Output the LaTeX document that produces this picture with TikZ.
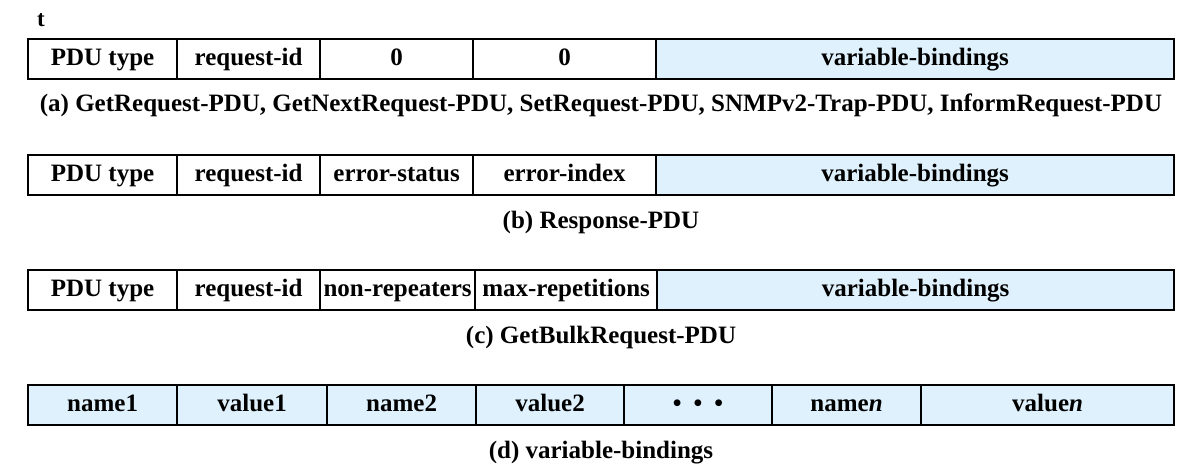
\documentclass[tikz,border=0pt]{standalone}
\usepackage{fontspec}
\setmainfont{Liberation Serif}
\definecolor{vb}{HTML}{DFF1FC}
\tikzset{
  cell/.style={draw=black, line width=2.2pt, minimum height=40pt, inner sep=0pt, anchor=north west,
    text height=18pt, text depth=5pt,
    font=\fontsize{25}{29}\selectfont\bfseries},
  cellw/.style={cell, fill=white},
  cellb/.style={cell, fill=vb},
  captext/.style={font=\fontsize{25}{29}\selectfont\bfseries, inner sep=0pt, anchor=base}
}
\begin{document}
\begin{tikzpicture}[x=1pt,y=-1pt]
\useasboundingbox (0,0) rectangle (1204,468);
\node[font=\fontsize{23}{26}\selectfont\bfseries, inner sep=0pt, anchor=base] (t) at (41,27) {t};
% row a
\node[cellw, minimum width=149pt] (a1) at (27,38) {PDU type};
\node[cellw, minimum width=143pt] (a2) at (176,38) {request-id};
\node[cellw, minimum width=153pt] (a3) at (319,38) {0};
\node[cellw, minimum width=183pt] (a4) at (472,38) {0};
\node[cellb, minimum width=518pt] (a5) at (655,38) {variable-bindings};
\node[captext] (ca) at (601,112) {(a) GetRequest-PDU, GetNextRequest-PDU, SetRequest-PDU, SNMPv2-Trap-PDU, InformRequest-PDU};
% row b
\node[cellw, minimum width=149pt] (b1) at (27,154) {PDU type};
\node[cellw, minimum width=143pt] (b2) at (176,154) {request-id};
\node[cellw, minimum width=153pt] (b3) at (319,154) {error-status};
\node[cellw, minimum width=183pt] (b4) at (472,154) {error-index};
\node[cellb, minimum width=518pt] (b5) at (655,154) {variable-bindings};
\node[captext] (cb) at (601,228) {(b) Response-PDU};
% row c
\node[cellw, minimum width=149pt] (c1) at (27,269) {PDU type};
\node[cellw, minimum width=143pt] (c2) at (176,269) {request-id};
\node[cellw, minimum width=155pt] (c3) at (319,269) {non-repeaters};
\node[cellw, minimum width=182pt] (c4) at (474,269) {max-repetitions};
\node[cellb, minimum width=517pt] (c5) at (656,269) {variable-bindings};
\node[captext] (cc) at (601,343) {(c) GetBulkRequest-PDU};
% row d
\node[cellb, minimum width=149pt] (d1) at (27,384) {name1};
\node[cellb, minimum width=150pt] (d2) at (176,384) {value1};
\node[cellb, minimum width=149pt] (d3) at (326,384) {name2};
\node[cellb, minimum width=148pt] (d4) at (475,384) {value2};
\node[cellb, minimum width=148pt] (d5) at (623,384) {\textbullet\hspace{12pt}\textbullet\hspace{12pt}\textbullet};
\node[cellb, minimum width=149pt] (d6) at (771,384) {name\textit{n}};
\node[cellb, minimum width=253pt] (d7) at (920,384) {value\textit{n}};
\node[captext] (cd) at (601,458) {(d) variable-bindings};
\end{tikzpicture}
\end{document}
